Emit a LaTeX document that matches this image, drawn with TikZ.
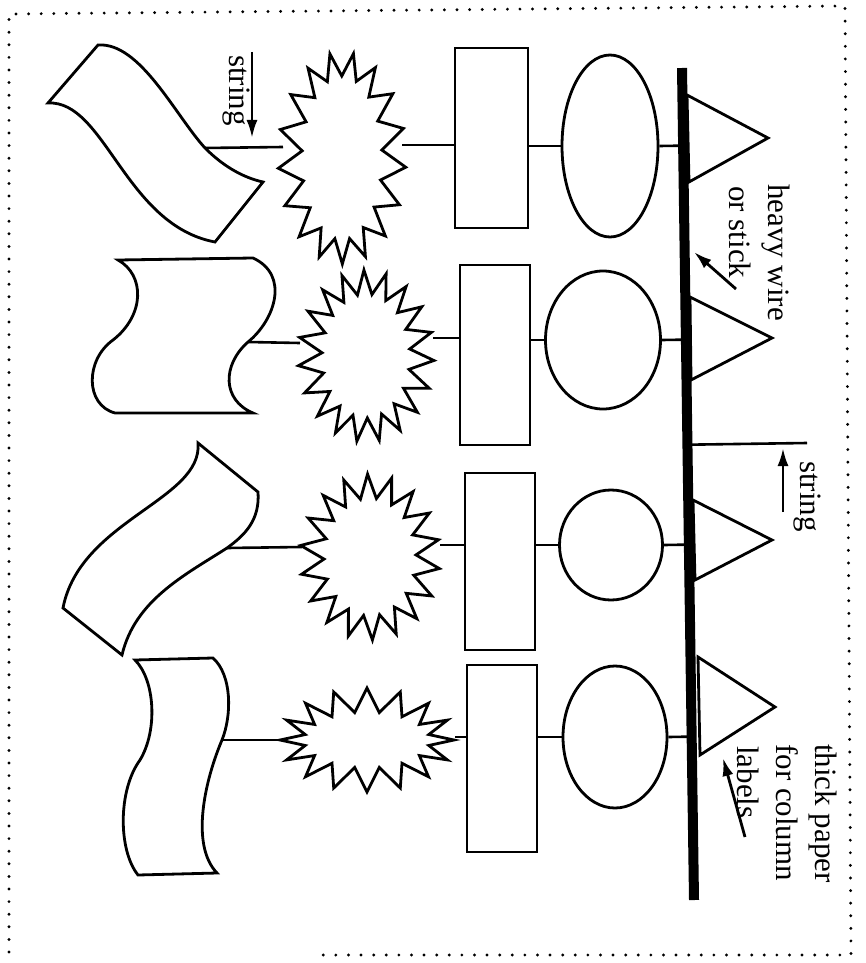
\documentclass[tikz,border=0pt]{standalone}
\usepackage{fontspec}
\setmainfont{Liberation Serif}
\usetikzlibrary{shapes.geometric,arrows.meta,calc}

\tikzset{
  outline/.style={draw=black, line width=2.8pt, line join=miter},
  box/.style={outline, rectangle, inner sep=0pt},
  oval/.style={outline, ellipse, inner sep=0pt},
  cord/.style={draw=black, line width=2.6pt},
  note/.style={font=\fontsize{31}{36}\selectfont, rotate=-90, anchor=base west, inner sep=0pt},
  pointer/.style={line width=2.8pt, -{Latex[length=18pt,width=11pt]}},
  frame/.style={line width=3.2pt, dash pattern=on 0pt off 12.6pt, line cap=round},
  wire/.style={line width=10pt}
}
% star burst: cx, cy, rx, ry, points, depth, phase
\newcommand\drawburst[7]{%
  \pgfmathsetmacro\bstep{180/#5}%
  \draw[outline] plot[samples=2*#5, domain=#7:#7+360-\bstep, variable=\t]
    ({#1+(#3-#6*mod(round((\t-#7)/\bstep),2))*cos(\t)},
     {#2+(#4-#6*mod(round((\t-#7)/\bstep),2))*sin(\t)}) -- cycle;
}

\begin{document}
\begin{tikzpicture}[x=1pt,y=-1pt]
\useasboundingbox (0,0) rectangle (866,963);

% dotted frame
\draw[frame] (9,952) -- (9,14) -- (845,6) -- (851,955) -- (320,955);

% heavy wire
\coordinate (wt) at (682,68);
\coordinate (wb) at (694,900);
\draw[wire] (wt) -- (wb);

% triangles (column labels)
\draw[outline] (687,95) -- (768,138) -- (689,182) -- cycle;
\draw[outline] (690,297) -- (772,338) -- (691,380) -- cycle;
\draw[outline] (693,500) -- (772,540) -- (695,580) -- cycle;
\draw[outline] (698,657) -- (775,707) -- (700,755) -- cycle;

% ellipses
\node[oval, minimum width=96pt, minimum height=182pt] (e1) at (610,146) {};
\node[oval, minimum width=115pt, minimum height=138pt] (e2) at (603,340) {};
\node[oval, minimum width=103pt, minimum height=110pt] (e3) at (611,545) {};
\node[oval, minimum width=104pt, minimum height=142pt] (e4) at (615,737) {};

% rectangles
\node[box, minimum width=73pt, minimum height=180pt] (r1) at (491.5,138) {};
\node[box, minimum width=70pt, minimum height=180pt] (r2) at (495,355) {};
\node[box, minimum width=70pt, minimum height=177pt] (r3) at (500,561.5) {};
\node[box, minimum width=70pt, minimum height=187pt] (r4) at (502,758.5) {};

% starbursts
\drawburst{342}{158}{64}{106}{17}{24}{5}
\drawburst{366}{356}{68}{86}{19}{24}{3}
\drawburst{370}{557}{70}{83}{18}{24}{8}
\drawburst{367}{740}{87}{52}{16}{24}{0}
\coordinate (s1w) at (283,147); \coordinate (s1e) at (402,145);
\coordinate (s2w) at (300,343); \coordinate (s2e) at (433,338);
\coordinate (s3w) at (302,547); \coordinate (s3e) at (440,545);
\coordinate (s4w) at (281,740); \coordinate (s4e) at (455,737);

% flags
\draw[outline] (98,45) -- (48,103)
  .. controls (105,100) and (125,225) .. (215,242) -- (263,182)
  .. controls (245,178) and (225,168) .. (205,148) coordinate (f1s)
  .. controls (175,115) and (140,42) .. (98,45) -- cycle;
\draw[outline] (118,260) -- (253,258)
  .. controls (290,275) and (275,320) .. (248,342) coordinate (f2s)
  .. controls (222,365) and (222,400) .. (253,413) -- (115,413)
  .. controls (85,405) and (85,360) .. (113,340)
  .. controls (145,315) and (145,275) .. (118,260) -- cycle;
\draw[outline] (198,443) -- (258,492)
  .. controls (260,520) and (245,535) .. (227,548) coordinate (f3s)
  .. controls (185,575) and (135,600) .. (122,655) -- (63,608)
  .. controls (80,520) and (203,500) .. (198,443) -- cycle;
\draw[outline] (135,660) -- (213,658)
  .. controls (232,675) and (232,715) .. (222,740) coordinate (f4s)
  .. controls (205,780) and (190,845) .. (217,873) -- (138,875)
  .. controls (118,850) and (118,790) .. (140,760)
  .. controls (158,730) and (155,680) .. (135,660) -- cycle;

% strings between the shapes of each row
\draw[cord] (f1s) -- (s1w);
\draw[cord] (s1e) -- (r1.west |- s1e);
\draw[cord] (r1.east |- e1.west) -- (e1.west);
\draw[cord] (e1.east) -- ($(wt)!(e1.east)!(wb)$);

\draw[cord] (f2s) -- (s2w);
\draw[cord] (s2e) -- (r2.west |- s2e);
\draw[cord] (r2.east |- e2.west) -- (e2.west);
\draw[cord] (e2.east) -- ($(wt)!(e2.east)!(wb)$);

\draw[cord] (f3s) -- (s3w);
\draw[cord] (s3e) -- (r3.west |- s3e);
\draw[cord] (r3.east |- e3.west) -- (e3.west);
\draw[cord] (e3.east) -- ($(wt)!(e3.east)!(wb)$);

\draw[cord] (f4s) -- (s4w);
\draw[cord] (s4e) -- (r4.west |- s4e);
\draw[cord] (r4.east |- e4.west) -- (e4.west);
\draw[cord] (e4.east) -- ($(wt)!(e4.east)!(wb)$);

% hanging string on the wire
\coordinate (hs) at (807,443);
\draw[cord] ($(wt)!(hs)!(wb)$) -- (hs);

% labels and arrows
\node[note] (lab1) at (229,55) {string};
\coordinate (a1a) at (252,52); \coordinate (a1b) at (252,138);
\draw[pointer] (a1a) -- (a1b);

\node[note] (lab2) at (800,461) {string};
\coordinate (a2a) at (783,512); \coordinate (a2b) at (783,448);
\draw[pointer] (a2a) -- (a2b);

\node[note] (lab3) at (768,184) {heavy wire};
\node[note] (lab4) at (729,186) {or stick};
\coordinate (a3a) at (736,289); \coordinate (a3b) at (694,252);
\draw[pointer] (a3a) -- (a3b);

\node[note] (lab5) at (815,744) {thick paper};
\node[note] (lab6) at (776,744) {for column};
\node[note] (lab7) at (737,746) {labels};
\coordinate (a4a) at (745,837); \coordinate (a4b) at (723,758);
\draw[pointer] (a4a) -- (a4b);
\end{tikzpicture}
\end{document}
